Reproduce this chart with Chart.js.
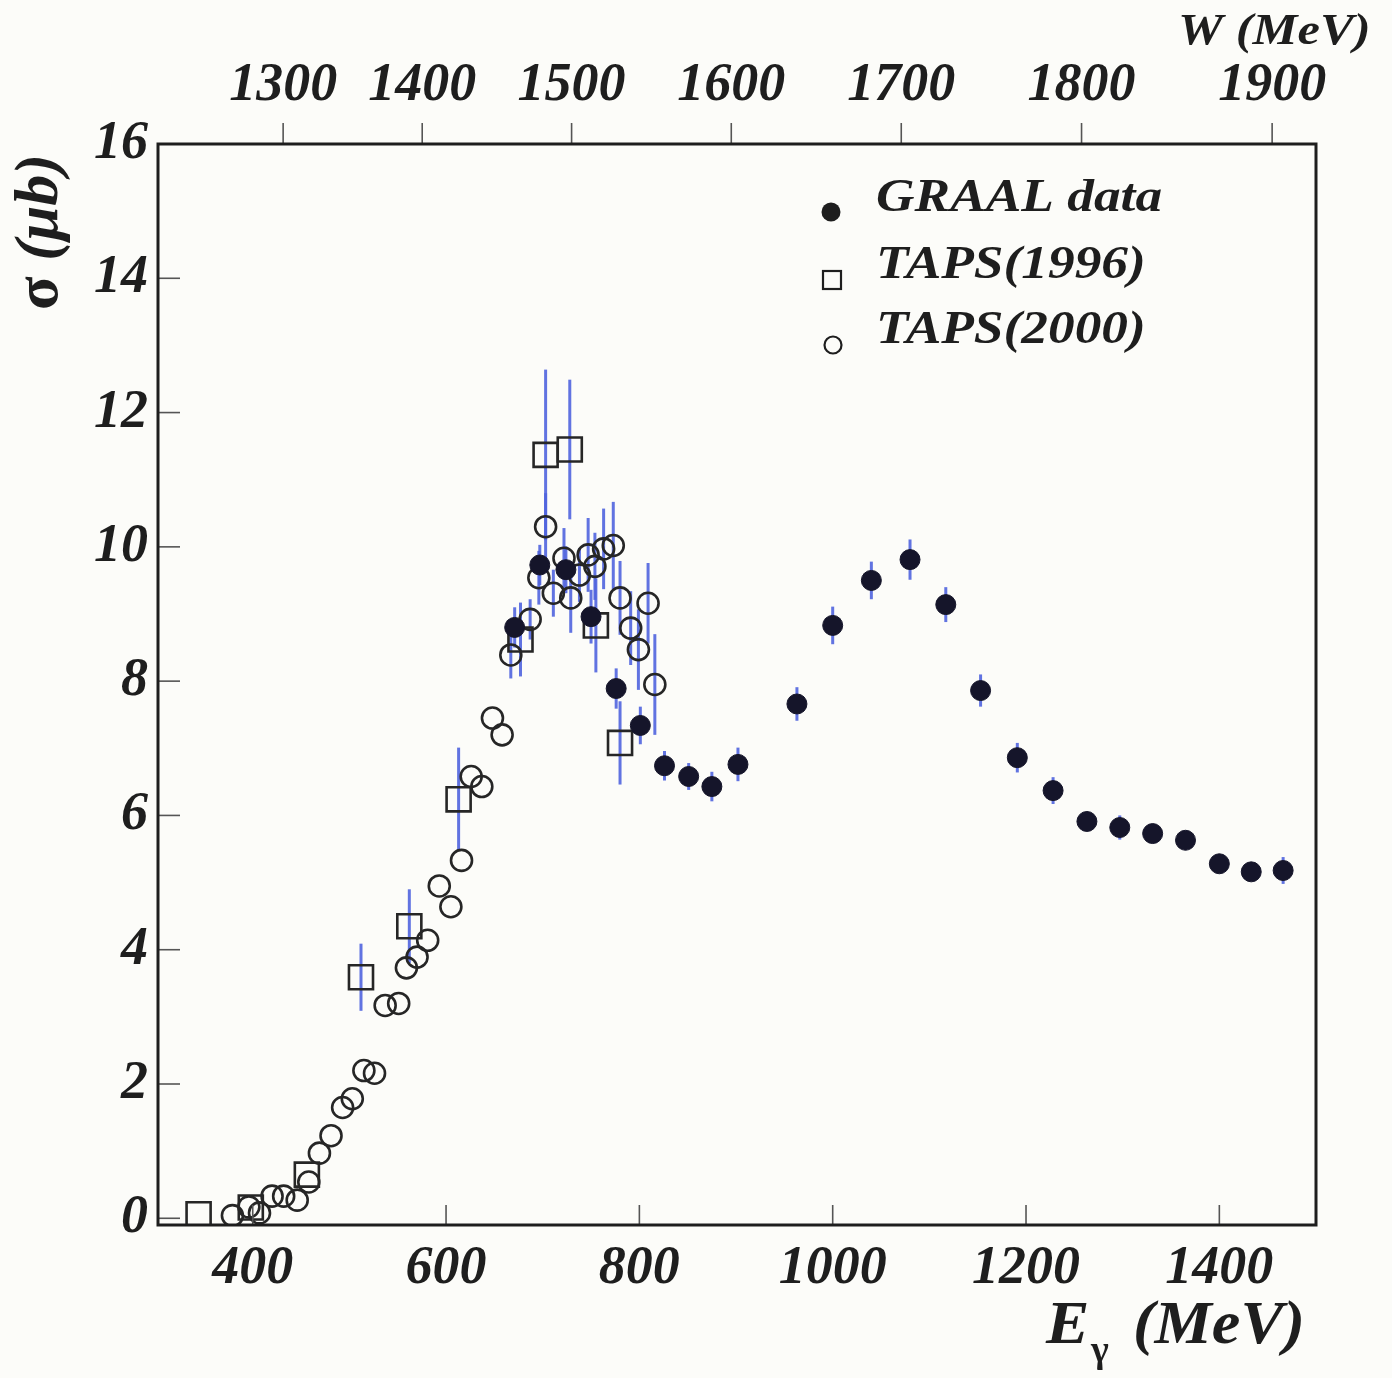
<!DOCTYPE html>
<html>
<head>
<meta charset="utf-8">
<script src="https://cdn.jsdelivr.net/npm/chart.js@4.4.1/dist/chart.umd.min.js"></script>
<style>
  html, body { margin: 0; padding: 0; background: #fcfcf9; }
  #wrap { width: 1392px; height: 1378px; position: relative; }
</style>
</head>
<body>
<div id="wrap"><canvas id="chart"></canvas></div>
<script>
// --- data (E in MeV, sigma in microbarn) ---
const graalE   = [671, 697, 724, 750, 776, 801, 826, 851, 875, 902, 963, 1000, 1040, 1080, 1117, 1153, 1191, 1228, 1263, 1297, 1331, 1365, 1400, 1433, 1466];
const graalSig = [8.80, 9.73, 9.66, 8.96, 7.89, 7.34, 6.74, 6.58, 6.43, 6.76, 7.66, 8.83, 9.50, 9.81, 9.14, 7.86, 6.86, 6.37, 5.91, 5.82, 5.73, 5.63, 5.28, 5.16, 5.18];
const graalErr = [0.30, 0.30, 0.35, 0.40, 0.30, 0.28, 0.22, 0.20, 0.22, 0.25, 0.25, 0.28, 0.28, 0.30, 0.26, 0.24, 0.22, 0.20, 0.12, 0.18, 0.12, 0.14, 0.12, 0.12, 0.20];

const taps96E   = [344, 398, 456, 512, 562, 613, 677, 703, 728, 755, 780];
const taps96Sig = [0.06, 0.16, 0.65, 3.59, 4.35, 6.24, 8.62, 11.37, 11.45, 8.83, 7.08];
const taps96Err = [0, 0, 0, 0.50, 0.55, 0.77, 0.55, 1.27, 1.04, 0.70, 0.62];

const taps00E   = [379, 396, 407, 420, 432, 446, 458, 469, 481, 493, 503, 515, 526, 537, 551, 559, 570, 581, 593, 605, 616, 626, 637, 648, 658,
                   667, 687, 696, 703, 711, 722, 729, 738, 747, 754, 763, 773, 780, 791, 799, 809, 816];
const taps00Sig = [0.04, 0.17, 0.08, 0.33, 0.33, 0.27, 0.54, 0.97, 1.23, 1.65, 1.78, 2.20, 2.16, 3.17, 3.20, 3.73, 3.89, 4.14, 4.95, 4.64, 5.33, 6.58, 6.43, 7.45, 7.20,
                   8.39, 8.92, 9.54, 10.30, 9.31, 9.83, 9.24, 9.58, 9.88, 9.71, 9.97, 10.02, 9.24, 8.79, 8.47, 9.16, 7.95];
const taps00Err = [0, 0, 0, 0, 0, 0, 0, 0, 0, 0, 0, 0, 0, 0, 0, 0, 0, 0, 0, 0, 0, 0, 0, 0, 0,
                   0.35, 0.30, 0.40, 0.50, 0.35, 0.45, 0.52, 0.40, 0.55, 0.50, 0.60, 0.65, 0.55, 0.55, 0.60, 0.60, 0.75];

const eTicks   = [400, 600, 800, 1000, 1200, 1400];
const sigTicks = [0, 2, 4, 6, 8, 10, 12, 14, 16];
const wTicks   = [1300, 1400, 1500, 1600, 1700, 1800, 1900];

const M_P = 938.27;
// photon lab energy for a given total c.m. energy W
function eFromW(w) { return (w * w - M_P * M_P) / (2 * M_P); }

function pts(xs, ys) { return xs.map((x, i) => ({ x: x, y: ys[i] })); }

const FONT = 'Liberation Serif';
const INK = '#1e1e1e';
const BAR = 'rgba(80, 100, 222, 0.9)';
const tickFont = { family: FONT, size: 54, style: 'italic', weight: 'bold' };

// error bars under the markers
const errorBars = {
  id: 'errorBars',
  beforeDatasetsDraw(chart) {
    const ctx = chart.ctx, xs = chart.scales.x, ys = chart.scales.y, a = chart.chartArea;
    ctx.save();
    ctx.beginPath();
    ctx.rect(a.left, a.top, a.right - a.left, a.bottom - a.top);
    ctx.clip();
    ctx.strokeStyle = BAR;
    ctx.lineWidth = 3;
    chart.data.datasets.forEach(ds => {
      ds.data.forEach((p, i) => {
        const e = ds.err[i];
        if (!e) return;
        const px = xs.getPixelForValue(p.x);
        ctx.beginPath();
        ctx.moveTo(px, ys.getPixelForValue(p.y - e));
        ctx.lineTo(px, ys.getPixelForValue(p.y + e));
        ctx.stroke();
      });
    });
    ctx.restore();
  }
};

function stretchText(ctx, text, x, y, font, sx) {
  ctx.save();
  ctx.font = font;
  ctx.translate(x, y);
  ctx.scale(sx, 1);
  ctx.fillText(text, 0, 0);
  ctx.restore();
}

// frame, tick marks, legend, axis titles
const decor = {
  id: 'decor',
  afterDraw(chart) {
    const ctx = chart.ctx, a = chart.chartArea;
    const xs = chart.scales.x, ys = chart.scales.y;
    ctx.save();
    // tick marks
    ctx.strokeStyle = '#555';
    ctx.lineWidth = 1.6;
    eTicks.forEach(v => {
      const px = xs.getPixelForValue(v);
      ctx.beginPath(); ctx.moveTo(px, a.bottom); ctx.lineTo(px, a.bottom - 20); ctx.stroke();
    });
    sigTicks.forEach(v => {
      const py = ys.getPixelForValue(v);
      ctx.beginPath(); ctx.moveTo(a.left, py); ctx.lineTo(a.left + 22, py); ctx.stroke();
    });
    wTicks.forEach(w => {
      const px = xs.getPixelForValue(eFromW(w));
      ctx.beginPath(); ctx.moveTo(px, a.top); ctx.lineTo(px, a.top - 21); ctx.stroke();
    });
    // frame
    ctx.strokeStyle = INK;
    ctx.lineWidth = 3;
    ctx.strokeRect(a.left, a.top, a.right - a.left, a.bottom - a.top);

    // legend
    ctx.fillStyle = INK;
    ctx.strokeStyle = INK;
    ctx.lineWidth = 2.2;
    ctx.beginPath(); ctx.arc(831, 212, 9.5, 0, Math.PI * 2); ctx.fill();
    ctx.strokeRect(823, 271, 18, 18);
    ctx.beginPath(); ctx.arc(833, 345, 8.5, 0, Math.PI * 2); ctx.stroke();
    ctx.textBaseline = 'alphabetic';
    ctx.textAlign = 'left';
    const lf = 'italic bold 46px "' + FONT + '"';
    stretchText(ctx, 'GRAAL data', 876, 211, lf, 1.16);
    stretchText(ctx, 'TAPS(1996)', 876, 278, lf, 1.16);
    stretchText(ctx, 'TAPS(2000)', 876, 343, lf, 1.16);

    // top axis title
    stretchText(ctx, 'W (MeV)', 1178, 44, 'italic bold 44px "' + FONT + '"', 1.15);

    // bottom axis title E_gamma (MeV)
    stretchText(ctx, 'E', 1046, 1343, 'italic bold 62px "' + FONT + '"', 1.05);
    stretchText(ctx, 'γ', 1091, 1362, 'bold 38px "' + FONT + '"', 1.0);
    stretchText(ctx, '(MeV)', 1133, 1343, 'italic bold 62px "' + FONT + '"', 1.04);

    // left axis title, rotated
    ctx.save();
    ctx.translate(57, 310);
    ctx.rotate(-Math.PI / 2);
    ctx.font = 'bold 62px "' + FONT + '"';
    ctx.fillText('σ', 0, 0);
    const sw = ctx.measureText('σ ').width;
    ctx.font = 'italic bold 62px "' + FONT + '"';
    ctx.fillText('(μb)', sw, 0);
    ctx.restore();

    ctx.restore();
  }
};

new Chart(document.getElementById('chart'), {
  type: 'scatter',
  data: {
    datasets: [
      {
        label: 'TAPS(2000)',
        data: pts(taps00E, taps00Sig),
        err: taps00Err,
        pointStyle: 'circle',
        pointRadius: 10.5,
        pointBorderWidth: 2.6,
        borderColor: '#262626',
        backgroundColor: 'rgba(0,0,0,0)',
        order: 3
      },
      {
        label: 'TAPS(1996)',
        data: pts(taps96E, taps96Sig),
        err: taps96Err,
        pointStyle: 'rect',
        pointRadius: 17,
        pointBorderWidth: 2.6,
        borderColor: '#262626',
        backgroundColor: 'rgba(0,0,0,0)',
        order: 2
      },
      {
        label: 'GRAAL data',
        data: pts(graalE, graalSig),
        err: graalErr,
        pointStyle: 'circle',
        pointRadius: 10,
        pointBorderWidth: 1,
        borderColor: '#15152a',
        backgroundColor: '#15152a',
        order: 1
      }
    ]
  },
  options: {
    responsive: true,
    maintainAspectRatio: false,
    animation: false,
    layout: { padding: { left: 0, right: 76, top: 0, bottom: 0 } },
    plugins: {
      legend: { display: false },
      tooltip: { enabled: false }
    },
    scales: {
      x: {
        type: 'linear',
        position: 'bottom',
        min: 302,
        max: 1500,
        grid: { display: false, drawTicks: false },
        border: { display: false },
        afterBuildTicks: s => { s.ticks = eTicks.map(v => ({ value: v })); },
        afterFit: s => { s.height = 153; },
        ticks: {
          font: tickFont, color: INK, padding: 12, maxRotation: 0, autoSkip: false,
          callback: v => String(v)
        }
      },
      x2: {
        type: 'linear',
        position: 'top',
        min: 302,
        max: 1500,
        grid: { display: false, drawTicks: false },
        border: { display: false },
        afterBuildTicks: s => { s.ticks = wTicks.map(w => ({ value: eFromW(w) })); },
        afterFit: s => { s.height = 144; },
        ticks: {
          font: tickFont, color: INK, padding: 26, maxRotation: 0, autoSkip: false,
          callback: (v, i) => String(wTicks[i])
        }
      },
      y: {
        type: 'linear',
        min: -0.1,
        max: 16,
        grid: { display: false, drawTicks: false },
        border: { display: false },
        afterBuildTicks: s => { s.ticks = sigTicks.map(v => ({ value: v })); },
        afterFit: s => { s.width = 158; },
        ticks: { font: tickFont, color: INK, padding: 10, autoSkip: false, callback: v => String(v) }
      }
    }
  },
  plugins: [errorBars, decor]
});
</script>
</body>
</html>
